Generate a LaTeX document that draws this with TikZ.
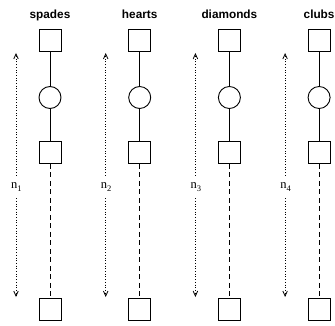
\documentclass[tikz,border=0pt]{standalone}
\usepackage{fontspec}
\setmainfont{Liberation Serif}
\newfontfamily\titlefont{Liberation Sans}
\usetikzlibrary{arrows.meta}
\tikzset{
  sq/.style={draw, line width=0.9pt, minimum size=22pt, inner sep=0pt},
  circ/.style={draw, circle, line width=0.9pt, minimum size=22pt, inner sep=0pt},
  ttl/.style={font=\titlefont\bfseries\fontsize{11.8}{12}\selectfont, inner sep=0pt, anchor=base},
  lbl/.style={font=\fontsize{12.5}{13}\selectfont, inner sep=0pt, minimum height=22pt},
  conn/.style={line width=0.9pt},
  dconn/.style={line width=0.9pt, dash pattern=on 5pt off 3.5pt},
  meas/.style={line width=0.8pt, dash pattern=on 0.9pt off 1.8pt, -{Straight Barb[length=5pt,width=4.5pt,line width=0.8pt]}}
}
\begin{document}
\begin{tikzpicture}[x=1pt,y=-1pt]
\useasboundingbox (0,0) rectangle (335,326);
\clip (0,0) rectangle (335,326);
\foreach \name/\lab/\i in {spades/1/0, hearts/2/1, diamonds/3/2, clubs/4/3}{
  \pgfmathsetmacro{\cx}{50+89.7*\i}
  \pgfmathsetmacro{\ax}{\cx-34}
  \node[ttl] (t\i) at (\cx,18.5) {\name};
  \node[sq] (a\i) at (\cx,40.5) {};
  \node[circ] (c\i) at (\cx,97.5) {};
  \node[sq] (b\i) at (\cx,152.5) {};
  \node[sq] (d\i) at (\cx,309.5) {};
  \draw[conn] (a\i) -- (c\i);
  \draw[conn] (c\i) -- (b\i);
  \draw[dconn] (b\i) -- (d\i);
  \node[lbl, minimum width=0pt] (n\i) at (\ax,187) {\makebox[0pt]{\hspace{1pt}n\raisebox{-3.5pt}{\fontsize{8.5}{9}\selectfont\lab}}};
  \coordinate (up\i) at (\ax,53);
  \coordinate (dn\i) at (\ax,297);
  \draw[meas] (n\i.north) -- (up\i);
  \draw[meas] (n\i.south) -- (dn\i);
}
\end{tikzpicture}
\end{document}
